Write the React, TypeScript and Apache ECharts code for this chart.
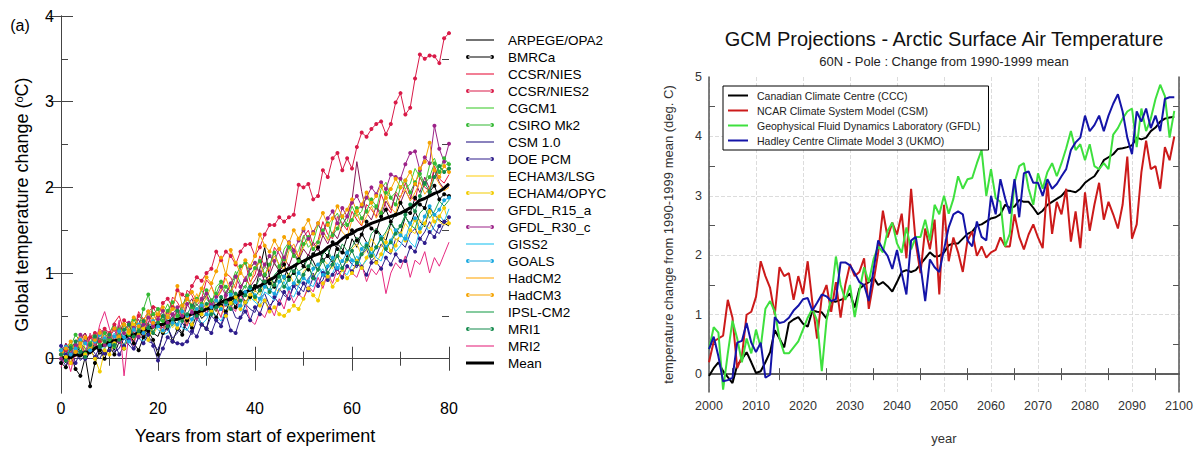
import React, { useEffect, useRef } from "react";
import * as echarts from "echarts";

// ---------------- Left panel data (years 0..80) ----------------
const ARPEGE_OPA2 = [
  0.02, -0.05, 0.10, 0.04, 0.15, -0.02, 0.08, 0.18, 0.05, 0.12,
  0.22, 0.10, 0.28, 0.15, 0.30, 0.20, 0.35, 0.24, 0.40, 0.30,
  0.26, 0.42, 0.33, 0.48, 0.38, 0.30, 0.50, 0.45, 0.58, 0.47,
  0.52, 0.66, 0.55, 0.70, 0.61, 0.74, 0.68, 0.80, 0.72, 0.85,
  0.78, 1.05, 1.30, 0.95, 0.88, 1.02, 0.94, 1.10, 1.00, 1.15,
  1.08, 1.22, 1.14, 1.02, 1.26, 1.20, 1.12, 1.34, 1.28, 1.18,
  1.40, 1.30, 1.46, 1.36, 1.28, 1.52, 1.44, 1.38, 1.58, 1.50,
  1.46, 1.66, 1.56, 1.72, 1.60, 1.54, 1.76, 1.68, 1.62, 1.58,
  1.55,
];
const BMRCa = [
  -0.05, -0.10, 0.05, -0.12, -0.20, 0.02, -0.32, -0.05, 0.10, 0.00,
  0.15, 0.05, 0.20, 0.12, 0.28, 0.18, 0.10, 0.25, 0.32, 0.22,
  0.05, 0.30, 0.38, 0.20, 0.35, 0.28, 0.45, 0.36, 0.52, 0.40,
  0.35, 0.58, 0.48, 0.62, 0.55, 0.70, 0.60, 0.78, 0.66, 0.72,
  0.85, 0.80, 0.98, 0.88, 0.84, 1.02, 1.10, 0.95, 1.00, 1.16,
  1.08, 1.04, 1.22, 1.30, 1.15, 1.20, 1.36, 1.28, 1.24, 1.42,
  1.50, 1.38, 1.45, 1.60, 1.52, 1.48, 1.66, 1.74, 1.60, 1.68,
  1.82, 1.72, 1.70, 1.88, 1.80, 1.76, 1.95, 2.02, 1.86, 1.92,
  1.90,
];
const CCSR_NIES = [
  0.05, 0.18, 0.10, 0.02, 0.22, 0.30, 0.15, 0.12, 0.35, 0.28,
  0.20, 0.42, 0.50, 0.32, 0.38, 0.30, 0.55, 0.46, 0.40, 0.62,
  0.58, 0.44, 0.50, 0.72, 0.66, 0.55, 0.80, 0.74, 0.62, 0.70,
  0.92, 0.85, 0.70, 0.78, 1.00, 0.95, 0.82, 1.05, 1.12, 0.90,
  0.98, 1.20, 1.08, 1.02, 1.30, 1.22, 1.10, 1.35, 1.28, 1.18,
  1.42, 1.50, 1.32, 1.38, 1.60, 1.45, 1.40, 1.66, 1.58, 1.50,
  1.72, 1.62, 1.55, 1.80, 1.74, 1.66, 1.92, 1.78, 1.70, 1.95,
  1.88, 2.05, 1.90, 1.84, 2.12, 2.00, 1.96, 2.25, 2.10, 2.05,
  2.15,
];
const CCSR_NIES2 = [
  0.05, 0.10, -0.05, 0.15, 0.20, 0.05, 0.25, 0.30, 0.20, 0.35,
  0.30, 0.40, 0.25, 0.45, 0.40, 0.35, 0.50, 0.45, 0.55, 0.60,
  0.50, 0.65, 0.70, 0.60, 0.80, 0.75, 0.70, 0.85, 0.95, 0.91,
  1.00, 1.05, 1.25, 1.15, 1.25, 1.20, 1.10, 1.25, 1.33, 1.34,
  1.20, 1.30, 1.45, 1.56, 1.56, 1.65, 1.60, 1.65, 1.68, 2.03,
  2.00, 2.04, 1.86, 1.90, 2.20, 2.12, 2.34, 2.40, 2.20, 2.34,
  2.22, 2.47, 2.64, 2.59, 2.68, 2.74, 2.77, 2.62, 2.74, 2.99,
  3.10, 2.85, 2.93, 3.27, 3.55, 3.50, 3.54, 3.53, 3.45, 3.74,
  3.80,
];
const CGCM1 = [
  0.00, 0.12, 0.20, 0.08, 0.05, 0.25, 0.18, 0.32, 0.22, 0.14,
  0.30, 0.42, 0.28, 0.24, 0.36, 0.50, 0.40, 0.34, 0.55, 0.46,
  0.38, 0.52, 0.64, 0.50, 0.44, 0.60, 0.72, 0.58, 0.66, 0.80,
  0.70, 0.62, 0.84, 0.90, 0.76, 0.86, 1.02, 0.88, 0.82, 1.05,
  1.14, 0.98, 1.06, 1.22, 1.10, 1.04, 1.28, 1.36, 1.20, 1.26,
  1.44, 1.30, 1.36, 1.56, 1.48, 1.40, 1.62, 1.70, 1.54, 1.60,
  1.78, 1.66, 1.72, 1.90, 1.80, 1.74, 1.98, 2.06, 1.88, 1.94,
  2.10, 1.98, 2.04, 2.22, 2.12, 2.02, 2.26, 2.34, 2.18, 2.24,
  2.30,
];
const CSIRO_Mk2 = [
  0.10, 0.02, 0.15, 0.28, 0.20, 0.06, 0.18, 0.26, 0.16, 0.30,
  0.22, 0.14, 0.34, 0.40, 0.28, 0.46, 0.36, 0.58, 0.75, 0.52,
  0.58, 0.44, 0.56, 0.66, 0.50, 0.62, 0.74, 0.60, 0.70, 0.64,
  0.80, 0.68, 0.76, 0.90, 0.84, 0.78, 0.96, 1.08, 1.12, 0.98,
  1.06, 1.14, 0.98, 1.10, 1.24, 1.08, 1.16, 1.30, 1.20, 1.14,
  1.34, 1.42, 1.28, 1.36, 1.50, 1.58, 1.44, 1.52, 1.66, 1.56,
  1.62, 1.76, 1.64, 1.72, 1.86, 1.78, 1.70, 1.94, 1.88, 1.80,
  2.00, 2.08, 1.94, 2.06, 2.16, 2.04, 2.12, 2.28, 2.18, 2.34,
  2.27,
];
const CSM_10 = [
  0.00, -0.08, 0.05, 0.10, -0.02, 0.04, 0.14, 0.06, 0.00, 0.12,
  0.20, 0.08, 0.12, 0.24, 0.16, 0.10, 0.26, 0.32, 0.20, 0.18,
  0.10, 0.28, 0.36, 0.24, 0.30, 0.42, 0.34, 0.28, 0.46, 0.40,
  0.36, 0.50, 0.44, 0.40, 0.56, 0.62, 0.48, 0.46, 0.64, 0.58,
  0.54, 0.70, 0.76, 0.62, 0.68, 0.82, 0.74, 0.70, 0.88, 0.84,
  0.78, 0.94, 1.00, 0.86, 0.92, 1.06, 1.12, 0.98, 1.04, 1.18,
  1.10, 1.06, 1.22, 1.28, 1.14, 1.20, 1.34, 1.26, 1.22, 1.40,
  1.36, 1.30, 1.46, 1.52, 1.40, 1.48, 1.60, 1.50, 1.46, 1.58,
  1.62,
];
const DOE_PCM = [
  0.15, 0.05, 0.12, -0.05, 0.08, 0.00, 0.10, 0.02, 0.14, 0.06,
  0.10, 0.18, 0.05, 0.15, 0.22, 0.12, 0.25, 0.18, 0.28, 0.15,
  -0.02, 0.12, 0.25, 0.20, 0.18, 0.17, 0.20, 0.32, 0.26, 0.40,
  0.35, 0.30, 0.45, 0.38, 0.52, 0.33, 0.30, 0.48, 0.55, 0.45,
  0.60, 0.52, 0.68, 0.58, 0.72, 0.64, 0.78, 0.70, 0.85, 0.76,
  0.88, 0.80, 0.95, 0.85, 1.00, 0.92, 0.98, 1.05, 0.95, 1.08,
  1.02, 1.10, 1.07, 0.98, 1.12, 1.13, 1.05, 1.18, 1.10, 1.22,
  1.14, 1.14, 1.30, 1.25, 1.40, 1.35, 1.48, 1.42, 1.55, 1.60,
  1.65,
];
const ECHAM3_LSG = [
  0.05, 0.00, 0.12, 0.08, 0.18, 0.10, 0.05, 0.15, 0.22, 0.12,
  0.20, 0.28, 0.18, 0.25, 0.35, 0.22, 0.30, 0.40, 0.32, 0.28,
  0.38, 0.30, 0.45, 0.36, 0.42, 0.50, 0.40, 0.55, 0.48, 0.60,
  0.52, 0.62, 0.56, 0.50, 0.66, 0.58, 0.72, 0.64, 0.76, 0.68,
  0.80, 0.74, 0.88, 0.95, 0.82, 0.78, 0.92, 1.00, 0.88, 0.86,
  1.02, 1.08, 0.96, 1.04, 1.16, 1.10, 1.05, 1.22, 1.15, 1.12,
  1.28, 1.34, 1.20, 1.26, 1.40, 1.32, 1.30, 1.46, 1.52, 1.38,
  1.44, 1.58, 1.50, 1.46, 1.62, 1.55, 1.52, 1.68, 1.60, 1.56,
  1.60,
];
const ECHAM4_OPYC = [
  0.10, 0.02, -0.05, 0.08, 0.15, 0.05, 0.12, 0.00, -0.15, 0.10,
  0.05, 0.18, 0.25, 0.12, 0.30, 0.40, 0.28, 0.35, 0.22, 0.38,
  0.45, 0.32, 0.50, 0.42, 0.36, 0.55, 0.48, 0.40, 0.58, 0.52,
  0.62, 0.55, 0.68, 0.60, 0.50, 0.65, 0.72, 0.58, 0.66, 0.75,
  0.70, 0.62, 0.68, 0.55, 0.60, 0.52, 0.50, 0.56, 0.62, 0.58,
  0.70, 0.82, 0.74, 0.68, 0.88, 0.96, 0.84, 0.92, 1.04, 0.94,
  1.00, 1.14, 1.06, 1.18, 1.28, 1.12, 1.22, 1.36, 1.26, 1.32,
  1.46, 1.38, 1.50, 1.62, 1.48, 1.58, 1.72, 1.60, 1.66, 1.76,
  1.58,
];
const GFDL_R15_a = [
  0.05, 0.18, 0.10, 0.04, 0.24, 0.30, 0.16, 0.12, 0.28, 0.36,
  0.22, 0.18, 0.40, 0.30, 0.20, 0.38, 0.46, 0.32, 0.42, 0.54,
  0.40, 0.36, 0.58, 0.48, 0.56, 0.44, 0.62, 0.70, 0.52, 0.66,
  0.74, 0.60, 0.68, 0.56, 0.78, 0.86, 0.72, 0.80, 0.96, 0.84,
  0.92, 1.04, 0.90, 0.98, 1.12, 1.02, 1.18, 1.08, 1.24, 1.14,
  1.28, 1.20, 1.36, 1.26, 1.44, 1.34, 1.48, 1.40, 1.56, 1.66,
  1.85, 2.30, 1.95, 1.70, 1.62, 1.78, 1.66, 1.84, 1.74, 1.92,
  1.82, 1.96, 1.86, 2.06, 1.94, 2.12, 1.98, 2.20, 2.06, 1.98,
  2.02,
];
const GFDL_R30_c = [
  0.00, 0.12, 0.06, 0.16, 0.28, 0.20, 0.10, 0.22, 0.30, 0.16,
  0.26, 0.34, 0.20, 0.30, 0.42, 0.36, 0.26, 0.40, 0.48, 0.38,
  0.46, 0.56, 0.42, 0.52, 0.60, 0.50, 0.64, 0.54, 0.48, 0.70,
  0.76, 0.62, 0.72, 0.84, 0.74, 0.88, 0.96, 0.84, 0.92, 1.06,
  1.12, 0.98, 1.10, 1.20, 1.14, 1.28, 1.18, 1.36, 1.26, 1.38,
  1.50, 1.40, 1.48, 1.58, 1.46, 1.64, 1.72, 1.58, 1.76, 1.66,
  1.82, 1.90, 1.78, 1.88, 2.00, 1.92, 2.06, 1.98, 2.15, 2.12,
  2.10, 2.27, 2.40, 2.42, 2.20, 2.35, 2.28, 2.72, 2.45, 2.30,
  2.51,
];
const GISS2 = [
  0.08, 0.02, 0.12, 0.15, 0.05, 0.10, 0.18, 0.26, 0.14, 0.12,
  0.22, 0.30, 0.18, 0.16, 0.28, 0.35, 0.24, 0.20, 0.32, 0.40,
  0.34, 0.28, 0.30, 0.42, 0.48, 0.36, 0.33, 0.45, 0.52, 0.40,
  0.46, 0.58, 0.50, 0.44, 0.56, 0.62, 0.70, 0.55, 0.60, 0.72,
  0.66, 0.62, 0.78, 0.74, 0.68, 0.80, 0.90, 0.76, 0.72, 0.85,
  0.95, 0.88, 0.84, 0.98, 1.05, 0.92, 1.00, 1.12, 1.02, 0.98,
  1.10, 1.20, 1.08, 1.15, 1.28, 1.18, 1.14, 1.30, 1.38, 1.25,
  1.32, 1.45, 1.36, 1.30, 1.50, 1.58, 1.46, 1.55, 1.68, 1.60,
  1.75,
];
const GOALS = [
  0.10, 0.14, 0.05, 0.12, 0.22, 0.18, 0.10, 0.20, 0.28, 0.24,
  0.16, 0.26, 0.32, 0.25, 0.20, 0.34, 0.40, 0.30, 0.36, 0.44,
  0.38, 0.33, 0.48, 0.42, 0.40, 0.55, 0.50, 0.46, 0.58, 0.62,
  0.52, 0.60, 0.68, 0.58, 0.64, 0.75, 0.66, 0.62, 0.78, 0.82,
  0.74, 0.70, 0.84, 0.80, 0.76, 0.90, 0.96, 0.82, 0.88, 1.00,
  0.94, 0.90, 1.05, 1.10, 0.98, 1.08, 1.18, 1.06, 1.14, 1.24,
  1.15, 1.12, 1.28, 1.34, 1.22, 1.30, 1.42, 1.30, 1.38, 1.50,
  1.44, 1.40, 1.58, 1.64, 1.52, 1.66, 1.78, 1.68, 1.74, 1.85,
  1.88,
];
const HadCM2 = [
  0.02, 0.14, 0.08, 0.20, 0.28, 0.12, 0.06, 0.24, 0.34, 0.22,
  0.30, 0.18, 0.36, 0.44, 0.30, 0.48, 0.40, 0.32, 0.52, 0.46,
  0.58, 0.42, 0.50, 0.62, 0.55, 0.48, 0.70, 0.64, 0.76, 0.60,
  0.72, 0.84, 0.70, 0.80, 0.94, 0.78, 0.88, 1.02, 0.92, 0.86,
  1.06, 1.12, 0.96, 1.08, 1.20, 1.10, 1.04, 1.26, 1.34, 1.18,
  1.30, 1.40, 1.26, 1.36, 1.50, 1.38, 1.46, 1.60, 1.48, 1.42,
  1.62, 1.70, 1.56, 1.66, 1.78, 1.64, 1.74, 1.88, 1.76, 1.70,
  1.90, 1.98, 1.84, 1.94, 2.06, 1.92, 2.00, 2.14, 2.04, 1.96,
  2.00,
];
const HadCM3 = [
  0.05, 0.12, 0.20, 0.08, 0.18, 0.25, 0.15, 0.22, 0.30, 0.20,
  0.28, 0.35, 0.25, 0.40, 0.32, 0.48, 0.38, 0.45, 0.55, 0.42,
  0.52, 0.60, 0.48, 0.58, 0.85, 0.62, 0.70, 0.78, 0.68, 0.82,
  0.95, 0.88, 1.02, 1.18, 0.98, 1.27, 1.12, 1.00, 1.15, 1.08,
  1.20, 1.45, 1.32, 1.25, 1.38, 1.28, 1.42, 1.35, 1.50, 1.40,
  1.52, 1.62, 1.46, 1.58, 1.70, 1.56, 1.64, 1.78, 1.66, 1.74,
  1.86, 1.72, 1.80, 1.94, 1.82, 1.90, 2.02, 1.88, 1.98, 2.10,
  2.00, 2.08, 2.18, 2.04, 2.22, 2.30, 2.52, 2.20, 2.12, 2.25,
  2.18,
];
const IPSL_CM2 = [
  0.00, 0.10, 0.04, 0.08, 0.18, 0.12, 0.06, 0.16, 0.24, 0.20,
  0.14, 0.26, 0.30, 0.22, 0.34, 0.28, 0.24, 0.38, 0.42, 0.32,
  0.40, 0.50, 0.44, 0.38, 0.52, 0.58, 0.46, 0.54, 0.64, 0.56,
  0.60, 0.70, 0.62, 0.58, 0.74, 0.80, 0.68, 0.76, 0.86, 0.78,
  0.82, 0.94, 0.86, 0.80, 0.98, 1.04, 0.92, 0.98, 1.10, 1.02,
  1.06, 1.18, 1.08, 1.04, 1.22, 1.28, 1.14, 1.20, 1.34, 1.26,
  1.30, 1.42, 1.32, 1.28, 1.46, 1.52, 1.40, 1.48, 1.60, 1.50,
  1.54, 1.66, 1.56, 1.52, 1.70, 1.76, 1.64, 1.72, 1.84, 1.78,
  1.85,
];
const MRI1 = [
  0.05, -0.02, 0.12, 0.20, 0.08, 0.02, 0.16, 0.26, 0.14, 0.20,
  0.28, 0.16, 0.22, 0.34, 0.40, 0.26, 0.32, 0.44, 0.36, 0.30,
  0.42, 0.50, 0.38, 0.46, 0.56, 0.44, 0.52, 0.62, 0.50, 0.58,
  0.64, 0.52, 0.60, 0.72, 0.66, 0.58, 0.76, 0.68, 0.74, 0.84,
  0.72, 0.80, 0.90, 0.78, 0.86, 0.96, 0.84, 0.92, 1.02, 0.90,
  0.98, 1.08, 0.94, 1.04, 1.14, 1.00, 1.10, 1.20, 1.06, 1.16,
  1.26, 1.12, 1.22, 1.32, 1.20, 1.30, 1.40, 1.28, 1.36, 1.46,
  1.55, 1.68, 1.80, 1.72, 1.90, 2.05, 1.95, 2.12, 2.25, 2.18,
  2.22,
];
const MRI2 = [
  -0.10, 0.05, -0.15, 0.10, 0.20, 0.05, 0.30, 0.15, 0.40, 0.55,
  0.35, 0.20, 0.45, -0.20, 0.30, 0.15, 0.40, 0.25, 0.50, 0.35,
  0.45, 0.30, 0.55, 0.40, 0.60, 0.48, 0.38, 0.58, 0.45, 0.66,
  0.52, 0.70, 0.60, 0.48, 0.72, 0.62, 0.55, 0.75, 0.65, 0.45,
  0.40, 0.55, 0.48, 0.62, 0.50, 0.70, 0.58, 0.80, 0.65, 0.75,
  0.70, 0.85, 0.78, 0.95, 0.82, 1.00, 0.88, 1.05, 0.92, 1.10,
  1.00, 0.95, 1.10, 0.90, 1.05, 0.98, 1.08, 0.76, 1.00, 1.12,
  1.05, 1.20, 0.95, 1.15, 1.10, 1.25, 1.00, 1.18, 1.08, 1.22,
  1.36,
];
const MEAN = [
  0.00, 0.02, 0.01, 0.05, 0.03, 0.08, 0.07, 0.12, 0.15, 0.16,
  0.20, 0.21, 0.22, 0.25, 0.27, 0.28, 0.30, 0.33, 0.36, 0.37,
  0.40, 0.40, 0.43, 0.45, 0.46, 0.48, 0.50, 0.52, 0.55, 0.55,
  0.58, 0.60, 0.62, 0.66, 0.68, 0.70, 0.72, 0.75, 0.78, 0.80,
  0.83, 0.85, 0.88, 0.92, 0.95, 1.00, 1.03, 1.05, 1.08, 1.12,
  1.14, 1.17, 1.20, 1.22, 1.25, 1.30, 1.33, 1.35, 1.40, 1.44,
  1.46, 1.50, 1.52, 1.55, 1.58, 1.60, 1.62, 1.64, 1.66, 1.68,
  1.70, 1.73, 1.76, 1.80, 1.85, 1.87, 1.90, 1.93, 1.95, 1.99,
  2.04,
];

const leftYLabels = [0, 1, 2, 3, 4];
const leftYMinor = [0.5, 1.5, 2.5, 3.5];

// ---------------- Right panel data (2000..2099) ----------------
const FIRST_YEAR = 2000;
const CCC = [
  -0.03, 0.10, 0.20, 0.05, -0.05, -0.15, 0.15, 0.25, 0.37, 0.20,
  0.02, 0.05, 0.20, 0.37, 0.74, 0.60, 0.45, 0.86, 0.92, 0.96,
  0.85, 0.80, 1.07, 1.05, 1.04, 0.94, 1.23, 1.22, 1.25, 1.28,
  1.36, 1.12, 1.44, 1.50, 1.55, 1.63, 1.50, 1.55, 1.48, 1.39,
  1.55, 1.72, 1.75, 1.72, 1.75, 1.85, 1.95, 2.05, 1.98, 1.99,
  2.05, 2.17, 2.20, 2.20, 2.28, 2.36, 2.40, 2.50, 2.52, 2.57,
  2.62, 2.64, 2.69, 2.85, 2.80, 2.82, 2.93, 2.90, 2.90, 2.80,
  2.69, 2.75, 2.85, 2.90, 2.95, 3.00, 3.09, 3.08, 3.06, 3.12,
  3.22, 3.28, 3.33, 3.45, 3.60, 3.65, 3.70, 3.79, 3.80, 3.82,
  3.85, 3.98, 3.95, 3.98, 4.09, 4.15, 4.25, 4.30, 4.32, 4.33,
];
const CSM = [
  0.20, 0.55, 0.60, 0.65, 1.25, 0.95, 0.10, 0.30, 1.00, 1.05,
  1.30, 1.90, 1.65, 1.45, 1.00, 1.80, 1.65, 1.70, 1.25, 1.65,
  1.35, 1.90, 1.20, 0.60, 1.30, 1.50, 1.05, 1.55, 0.95, 1.50,
  1.85, 1.65, 1.72, 1.95, 1.10, 1.55, 2.05, 2.75, 2.30, 2.55,
  2.35, 2.70, 1.95, 3.12, 2.20, 1.70, 2.45, 2.10, 2.60, 1.34,
  2.85, 1.90, 2.30, 2.05, 1.72, 2.25, 2.40, 1.99, 2.15, 1.96,
  2.05, 2.09, 2.30, 2.15, 2.15, 2.69, 2.31, 2.10, 2.35, 2.52,
  2.30, 2.12, 3.22, 2.36, 2.90, 2.69, 3.12, 2.23, 2.74, 2.12,
  3.06, 2.41, 2.85, 3.22, 2.60, 2.90, 2.69, 2.45, 2.85, 3.66,
  2.28, 2.52, 3.40, 3.93, 3.45, 3.50, 3.12, 3.82, 3.60, 4.00,
];
const GFDL = [
  0.42, 0.79, 0.70, -0.26, 0.35, 0.90, 0.60, 0.20, 0.60, 0.35,
  0.75, 0.45, 1.10, 1.23, 1.05, 0.60, 0.35, 0.35, 0.45, 0.55,
  0.75, 0.95, 1.10, 0.90, 0.05, 0.90, 1.30, 1.98, 1.50, 1.25,
  1.50, 0.96, 1.40, 1.80, 1.55, 1.93, 2.15, 2.05, 2.41, 2.55,
  2.20, 2.04, 2.47, 2.10, 2.31, 2.31, 2.60, 2.25, 2.85, 2.69,
  3.00, 2.70, 2.95, 3.33, 3.12, 3.28, 3.30, 3.55, 3.77, 3.00,
  3.45, 2.96, 2.90, 2.15, 2.36, 3.22, 3.50, 3.55, 3.12, 2.85,
  3.38, 3.12, 3.40, 3.55, 3.33, 3.55, 3.80, 4.09, 3.77, 3.87,
  3.60, 3.87, 3.50, 3.45, 3.55, 3.45, 4.03, 4.14, 4.30, 4.42,
  4.47, 3.82, 4.47, 4.09, 4.30, 4.63, 4.87, 4.68, 3.98, 4.43,
];
const UKMO = [
  0.42, 0.63, 0.30, -0.12, -0.10, -0.06, 0.53, 0.56, 0.86, 0.53,
  0.37, 0.53, -0.06, -0.01, 0.96, 0.86, 0.88, 0.95, 1.07, 1.15,
  1.26, 1.28, 1.07, 1.20, 1.34, 1.31, 1.23, 1.26, 1.88, 1.88,
  1.83, 1.70, 1.55, 1.50, 1.23, 1.75, 2.25, 2.10, 1.99, 1.77,
  2.09, 1.70, 1.34, 2.25, 2.31, 1.83, 1.23, 1.93, 1.80, 1.72,
  2.10, 2.47, 2.69, 2.74, 2.69, 2.25, 2.15, 2.57, 2.31, 2.25,
  3.00, 2.69, 3.28, 2.96, 2.70, 3.28, 2.64, 3.38, 3.41, 3.22,
  3.22, 3.00, 3.28, 3.12, 3.20, 3.33, 3.45, 3.77, 3.90, 3.98,
  4.35, 4.09, 4.19, 4.35, 4.09, 4.35, 4.55, 4.71, 4.42, 3.98,
  3.70, 4.42, 4.25, 4.47, 4.14, 4.35, 4.09, 4.63, 4.66, 4.66,
];

const rightYLabels = [0, 1, 2, 3, 4, 5];
const rightYGrid = [0, 1, 2, 3, 4];
const rightYMinor = [0.5, 1.5, 2.5, 3.5, 4.5];

const FONT = "'Liberation Sans', Arial, Helvetica, sans-serif";

// legend glyphs (plain line / line with end dots / thick line)
const ICON_LINE = "path://M0,0h28v1.1h-28z";
const ICON_DOTS = "path://M2,1.45h24v1.1h-24z M0,2a2,2 0 1,0 4,0a2,2 0 1,0 -4,0z M24,2a2,2 0 1,0 4,0a2,2 0 1,0 -4,0z";
const ICON_THICK = "path://M0,0h28v3h-28z";
const ICON_RIGHT = "path://M0,0h20v2h-20z";

const leftModels = [
  { name: "ARPEGE/OPA2", values: ARPEGE_OPA2, color: "#000000", dots: false },
  { name: "BMRCa", values: BMRCa, color: "#000000", dots: true },
  { name: "CCSR/NIES", values: CCSR_NIES, color: "#e8173f", dots: false },
  { name: "CCSR/NIES2", values: CCSR_NIES2, color: "#d91a48", dots: true },
  { name: "CGCM1", values: CGCM1, color: "#44cc33", dots: false },
  { name: "CSIRO Mk2", values: CSIRO_Mk2, color: "#33b833", dots: true },
  { name: "CSM 1.0", values: CSM_10, color: "#2a1c88", dots: false },
  { name: "DOE PCM", values: DOE_PCM, color: "#2e1d8c", dots: true },
  { name: "ECHAM3/LSG", values: ECHAM3_LSG, color: "#ffd21e", dots: false },
  { name: "ECHAM4/OPYC", values: ECHAM4_OPYC, color: "#f2cc00", dots: true },
  { name: "GFDL_R15_a", values: GFDL_R15_a, color: "#8a1858", dots: false },
  { name: "GFDL_R30_c", values: GFDL_R30_c, color: "#9c2288", dots: true },
  { name: "GISS2", values: GISS2, color: "#22c4f0", dots: false },
  { name: "GOALS", values: GOALS, color: "#18a8e0", dots: true },
  { name: "HadCM2", values: HadCM2, color: "#ffaa10", dots: false },
  { name: "HadCM3", values: HadCM3, color: "#f5a300", dots: true },
  { name: "IPSL-CM2", values: IPSL_CM2, color: "#22a050", dots: false },
  { name: "MRI1", values: MRI1, color: "#138a4c", dots: true },
  { name: "MRI2", values: MRI2, color: "#e62a80", dots: false },
];

const rightModels = [
  { name: "Canadian Climate Centre (CCC)", values: CCC, color: "#000000" },
  { name: "NCAR Climate System Model (CSM)", values: CSM, color: "#cc1a1a" },
  { name: "Geophysical Fluid Dynamics Laboratory (GFDL)", values: GFDL, color: "#3ee03e" },
  { name: "Hadley Centre Climate Model 3 (UKMO)", values: UKMO, color: "#1414a8" },
];

function buildOption() {
  const frameL = { show: true, lineStyle: { color: "#444", width: 1 } };
  const frameR = { show: true, lineStyle: { color: "#555", width: 1.5 } };

  const leftSeries: any[] = leftModels.map((m) => ({
    type: "line",
    name: m.name,
    xAxisIndex: 0,
    yAxisIndex: 0,
    data: m.values.map((v, i) => [i, v]),
    symbol: m.dots ? "circle" : "none",
    symbolSize: 4,
    showSymbol: m.dots,
    lineStyle: { width: 1, color: m.color },
    itemStyle: { color: m.color },
    silent: true,
  }));
  leftSeries.push({
    type: "line",
    name: "Mean",
    xAxisIndex: 0,
    yAxisIndex: 0,
    data: MEAN.map((v, i) => [i, v]),
    symbol: "none",
    lineStyle: { width: 3, color: "#000" },
    itemStyle: { color: "#000" },
    silent: true,
    z: 3,
  });

  const rightSeries = rightModels.map((m) => ({
    type: "line",
    name: m.name,
    xAxisIndex: 2,
    yAxisIndex: 4,
    data: m.values.map((v, i) => [FIRST_YEAR + i, v]),
    symbol: "none",
    lineStyle: { width: 2, color: m.color },
    itemStyle: { color: m.color },
    silent: true,
  }));

  const leftX = {
    gridIndex: 0,
    type: "value",
    min: 0,
    max: 80,
    interval: 20,
    axisLine: frameL,
    axisTick: { show: true, inside: true, length: 12, lineStyle: { color: "#444" } },
    minorTick: { show: true, splitNumber: 2, length: 7, lineStyle: { color: "#444" } },
    splitLine: { show: false },
  };
  const leftYBase = {
    gridIndex: 0,
    type: "value",
    min: -0.4,
    max: 4,
    axisLine: frameL,
    splitLine: { show: false },
  };
  const rightX = {
    gridIndex: 1,
    type: "value",
    min: 2000,
    max: 2100,
    interval: 10,
    axisLine: frameR,
    axisTick: { show: false },
    minorTick: { show: true, splitNumber: 2, length: 6, lineStyle: { color: "#555" } },
  };
  const rightYBase = {
    gridIndex: 1,
    type: "value",
    min: -0.3,
    max: 5,
    axisLine: frameR,
  };

  return {
    animation: false,
    textStyle: { fontFamily: FONT },
    grid: [
      { left: 61, top: 16, width: 388, height: 386, containLabel: false },
      { left: 709, top: 77, width: 470, height: 327, containLabel: false },
    ],
    xAxis: [
      {
        ...leftX,
        position: "bottom",
        axisLabel: { fontSize: 16, color: "#000", margin: 7, fontFamily: FONT },
        name: "Years from start of experiment",
        nameLocation: "middle",
        nameGap: 34,
        nameTextStyle: { fontSize: 18, color: "#000", fontFamily: FONT },
      },
      { ...leftX, position: "top", axisLabel: { show: false } },
      {
        ...rightX,
        position: "bottom",
        axisLabel: {
          fontSize: 12.5,
          color: "#333",
          margin: 7,
          fontFamily: FONT,
          formatter: (v: number) => String(v),
        },
        splitLine: { show: true, lineStyle: { type: "dashed", color: "#dcdcdc", width: 1 } },
        name: "year",
        nameLocation: "middle",
        nameGap: 40,
        nameTextStyle: { fontSize: 13, color: "#333", fontFamily: FONT },
      },
      { ...rightX, position: "top", axisLabel: { show: false }, splitLine: { show: false } },
    ],
    yAxis: [
      {
        ...leftYBase,
        position: "left",
        axisTick: { show: true, inside: true, length: 12, customValues: leftYLabels, lineStyle: { color: "#444" } },
        axisLabel: { customValues: leftYLabels, fontSize: 16, color: "#000", margin: 7, fontFamily: FONT },
        name: "Global temperature change ({sup|o}C)",
        nameLocation: "middle",
        nameGap: 30,
        nameTextStyle: {
          fontSize: 18,
          color: "#000",
          fontFamily: FONT,
          rich: { sup: { fontSize: 11, verticalAlign: "top", lineHeight: 12, fontFamily: FONT, color: "#000" } },
        },
      },
      {
        ...leftYBase,
        position: "right",
        axisTick: { show: true, inside: true, length: 12, customValues: leftYLabels, lineStyle: { color: "#444" } },
        axisLabel: { show: false },
      },
      {
        ...leftYBase,
        position: "left",
        axisLine: { show: false },
        axisTick: { show: true, inside: true, length: 7, customValues: leftYMinor, lineStyle: { color: "#444" } },
        axisLabel: { show: false },
      },
      {
        ...leftYBase,
        position: "right",
        axisLine: { show: false },
        axisTick: { show: true, inside: true, length: 7, customValues: leftYMinor, lineStyle: { color: "#444" } },
        axisLabel: { show: false },
      },
      {
        ...rightYBase,
        position: "left",
        axisTick: { show: false, customValues: rightYGrid },
        axisLabel: { customValues: rightYLabels, fontSize: 12.5, color: "#333", margin: 7, fontFamily: FONT },
        splitLine: { show: true, lineStyle: { type: "dashed", color: "#dcdcdc", width: 1 } },
        name: "temperature change from 1990-1999 mean (deg. C)",
        nameLocation: "middle",
        nameGap: 34,
        nameTextStyle: { fontSize: 13, color: "#333", fontFamily: FONT },
      },
      {
        ...rightYBase,
        position: "right",
        axisTick: { show: true, inside: true, length: 6, customValues: rightYMinor, lineStyle: { color: "#555" } },
        axisLabel: { show: false },
        splitLine: { show: false },
      },
      {
        ...rightYBase,
        position: "left",
        axisLine: { show: false },
        axisTick: { show: true, inside: true, length: 6, customValues: rightYMinor, lineStyle: { color: "#555" } },
        axisLabel: { show: false },
        splitLine: { show: false },
      },
    ],
    legend: [
      {
        orient: "vertical",
        left: 466,
        top: 33,
        itemWidth: 28,
        itemHeight: 14,
        itemGap: 3,
        padding: 0,
        selectedMode: false,
        symbolKeepAspect: true,
        data: [
          ...leftModels.map((m) => ({
            name: m.name,
            icon: m.dots ? ICON_DOTS : ICON_LINE,
            itemStyle: { color: m.color, borderWidth: 0 },
          })),
          { name: "Mean", icon: ICON_THICK, itemStyle: { color: "#000", borderWidth: 0 } },
        ],
        textStyle: { fontSize: 13.5, color: "#000", fontFamily: FONT, padding: [0, 0, 0, 9] },
      },
      {
        orient: "vertical",
        left: 723,
        top: 86,
        itemWidth: 20,
        itemHeight: 10,
        itemGap: 4,
        padding: [4, 8, 4, 5],
        backgroundColor: "#fff",
        borderColor: "#000",
        borderWidth: 1,
        borderRadius: 0,
        selectedMode: false,
        symbolKeepAspect: true,
        data: rightModels.map((m) => ({
          name: m.name,
          icon: ICON_RIGHT,
          itemStyle: { color: m.color, borderWidth: 0 },
        })),
        textStyle: { fontSize: 10.5, color: "#222", fontFamily: FONT, padding: [0, 0, 0, 4] },
      },
    ],
    graphic: [
      {
        type: "text",
        x: 20,
        y: 25,
        style: { text: "(a)", fontSize: 16, fill: "#000", textAlign: "center", textVerticalAlign: "middle", fontFamily: FONT },
      },
      {
        type: "text",
        x: 944,
        y: 39,
        style: {
          text: "GCM Projections - Arctic Surface Air Temperature",
          fontSize: 20,
          fill: "#111",
          textAlign: "center",
          textVerticalAlign: "middle",
          fontFamily: FONT,
        },
      },
      {
        type: "text",
        x: 944,
        y: 61,
        style: {
          text: "60N - Pole : Change from 1990-1999 mean",
          fontSize: 13,
          fill: "#222",
          textAlign: "center",
          textVerticalAlign: "middle",
          fontFamily: FONT,
        },
      },
    ],
    series: [...leftSeries, ...rightSeries],
  };
}

export default function App() {
  const ref = useRef<HTMLDivElement | null>(null);
  useEffect(() => {
    if (!ref.current) return;
    const chart = echarts.init(ref.current, null, { renderer: "svg" });
    chart.setOption(buildOption() as any);
    return () => chart.dispose();
  }, []);
  return (
    <div
      ref={ref}
      style={{ position: "fixed", left: 0, top: 0, width: 1200, height: 450, background: "#fff" }}
    />
  );
}
